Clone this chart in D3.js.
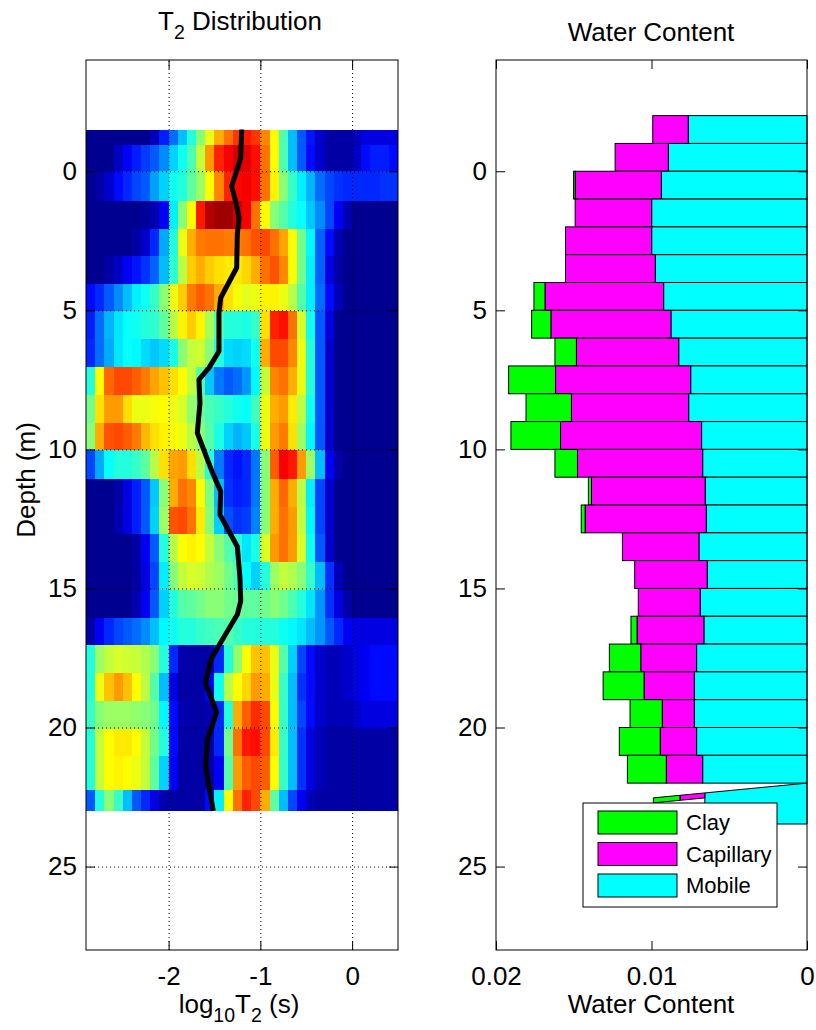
<!DOCTYPE html>
<html>
<head>
<meta charset="utf-8">
<script src="https://cdn.jsdelivr.net/npm/d3@7"></script>
<style>
  body { margin: 0; background: #fff; }
  text { font-family: "Liberation Sans", Arial, Helvetica, sans-serif; fill: #000; }
</style>
</head>
<body>
<svg id="chart" width="816" height="1030"></svg>
<script>
// ---------- data ----------
const depthTicks = [0, 5, 10, 15, 20, 25];
const t2Ticks = [-2, -1, 0];
const wcTicks = [0.02, 0.01, 0];

// log10(T2) bin centres of the distribution grid
const t2BinCenters = [-2.85, -2.75, -2.65, -2.55, -2.45, -2.35, -2.25, -2.15, -2.05, -1.95,
  -1.85, -1.75, -1.65, -1.55, -1.45, -1.35, -1.25, -1.15, -1.05, -0.95,
  -0.85, -0.75, -0.65, -0.55, -0.45, -0.35, -0.25, -0.15, -0.05, 0.05,
  0.15, 0.25, 0.35, 0.45];
const t2BinWidth = 0.1;

// depth boundaries of the distribution rows (m)
const t2RowEdges = [-1.5, -0.93, 0, 1.07, 2.06, 3.05, 4.04, 5.03, 6.04, 7.05, 8.05, 9.05,
  10.03, 11.05, 12.06, 13.06, 14.06, 15.07, 16.08, 17.05, 18.05, 19.04, 20.04, 21.04, 22.25, 23.0];

// normalised T2 amplitude (0-100) per row and bin
const t2Amplitude = [
  [0,0,0,0,0,0,0,4,14,22,30,40,50,60,70,76,82,85,82,74,62,44,30,20,13,6,2,2,2,4,8,8,8,8],
  [0,0,0,5,10,14,17,20,25,32,38,44,56,72,84,88,92,90,86,76,62,44,30,20,12,6,2,2,2,5,12,14,14,12],
  [0,2,6,12,15,18,20,27,32,38,40,46,52,62,74,84,87,88,86,76,63,50,42,35,29,22,18,16,15,15,15,15,16,16],
  [0,0,0,0,0,0,1,3,10,35,50,62,85,95,97,97,92,88,76,62,50,45,40,37,31,25,18,10,3,0,0,0,0,0],
  [0,0,0,0,0,2,6,15,28,40,60,70,75,76,76,75,75,76,79,80,76,71,62,48,36,21,12,3,0,0,0,0,0,0],
  [0,0,2,5,10,13,16,21,30,41,55,67,70,67,65,64,64,66,70,76,79,74,62,48,35,21,8,2,0,0,0,0,0,0],
  [12,15,20,25,30,35,38,42,50,60,67,75,78,76,70,65,61,59,60,63,63,60,55,45,35,22,12,4,0,0,0,0,0,0],
  [14,22,29,34,37,38,40,41,46,55,63,67,63,53,44,40,40,39,42,65,84,86,76,58,38,20,8,0,0,0,0,0,0,0],
  [15,22,28,34,37,36,33,31,33,39,50,56,57,50,40,33,32,33,38,70,80,80,74,60,40,20,6,0,0,0,0,0,0,0],
  [40,62,77,80,80,78,75,71,68,65,62,56,45,31,23,20,22,26,36,56,74,76,70,60,40,20,6,0,0,0,0,0,0,0],
  [48,65,72,72,65,60,60,61,62,60,58,51,47,44,42,40,38,37,43,60,70,72,64,55,38,20,6,0,0,0,0,0,0,0],
  [50,70,79,80,78,75,69,65,63,62,60,55,50,45,39,32,29,31,39,60,72,75,65,52,36,20,6,0,0,0,0,0,0,0],
  [18,28,37,40,40,42,46,55,65,71,72,65,55,40,23,15,13,15,23,50,78,88,85,72,52,30,10,2,0,0,0,0,0,0],
  [0,0,0,2,8,14,20,31,50,70,76,74,62,49,30,16,14,15,23,50,70,77,70,55,35,18,6,0,0,0,0,0,0,0],
  [0,0,0,3,8,14,20,32,52,79,80,76,64,50,32,19,16,17,24,50,70,76,72,56,36,18,6,0,0,0,0,0,0,0],
  [0,0,0,0,0,2,10,20,40,55,62,63,62,56,50,45,40,34,39,58,72,76,72,58,38,20,6,0,0,0,0,0,0,0],
  [0,0,0,0,0,2,8,18,35,50,56,58,57,54,52,48,44,37,32,40,52,56,54,50,42,30,16,4,0,0,0,0,0,0],
  [0,0,0,0,0,3,10,20,32,40,45,46,48,50,50,48,47,46,46,48,50,48,44,40,34,26,16,8,2,0,0,0,0,0],
  [2,10,15,18,20,22,25,30,36,38,40,40,42,43,44,45,42,40,40,40,40,38,36,34,30,26,20,15,10,8,8,8,8,8],
  [40,52,56,58,57,56,54,50,40,15,3,2,2,2,15,40,51,62,68,68,60,45,32,18,12,6,4,4,6,8,10,12,12,12],
  [40,60,68,72,68,62,55,45,30,8,2,2,2,10,38,55,62,66,72,70,60,42,30,16,12,6,4,4,6,8,10,12,12,12],
  [42,50,52,52,52,51,50,48,36,12,3,2,2,3,15,40,70,78,83,80,62,42,30,18,12,6,4,4,4,6,8,8,8,8],
  [40,56,62,64,64,62,56,48,40,12,2,2,2,2,15,48,76,85,86,80,64,42,30,16,8,4,2,2,2,2,2,2,2,2],
  [40,56,62,63,62,60,56,46,32,10,2,2,2,2,10,45,72,78,80,78,62,42,30,16,8,4,2,2,2,2,2,2,2,2],
  [20,40,50,42,30,20,15,8,3,2,2,2,2,12,35,62,76,84,80,70,46,30,18,10,4,2,2,2,2,2,2,2,2,2]
];

// mean log10(T2) profile
const meanT2Depth = [-1.5, -0.48, 0.54, 1.08, 1.67, 2.27, 3.47, 4.55, 5.1, 6.47, 7.07, 7.49, 8.33, 9.41,
  10.82, 11.51, 12.35, 13.49, 14.62, 15.46, 15.94, 16.99, 17.57, 18.4, 19.46, 20.44, 21.4, 23.0];
const meanLogT2 = [-1.203, -1.214, -1.312, -1.269, -1.233, -1.251, -1.258, -1.432, -1.451, -1.451, -1.560, -1.669, -1.658, -1.687,
  -1.524, -1.432, -1.440, -1.251, -1.222, -1.214, -1.251, -1.440, -1.541, -1.596, -1.476, -1.578, -1.596, -1.513];

// water content layers (m, m^3/m^3)
const layerTop = [-2, -1, 0, 1, 2, 3, 4, 5, 6, 7, 8, 9, 10, 11, 12, 13, 14, 15, 16, 17, 18, 19, 20, 21];
const layerBottom = [-1, 0, 1, 2, 3, 4, 5, 6, 7, 8, 9, 10, 11, 12, 13, 14, 15, 16, 17, 18, 19, 20, 21, 22];
const clayWC = [0, 0, 0.00010, 0, 0, 0, 0.00071, 0.00124, 0.00138, 0.00302, 0.00292, 0.00319,
  0.00145, 0.00020, 0.00025, 0, 0, 0, 0.00039, 0.00202, 0.00263, 0.00207, 0.00263, 0.00250];
const capillaryWC = [0.00228, 0.00342, 0.00554, 0.00492, 0.00554, 0.00577, 0.00763, 0.00772, 0.00658, 0.00869, 0.00754, 0.00907,
  0.00805, 0.00731, 0.00779, 0.00492, 0.00466, 0.00398, 0.00430, 0.00359, 0.00323, 0.00206, 0.00234, 0.00234];
const mobileWC = [0.00764, 0.00892, 0.00937, 0.00999, 0.00999, 0.00976, 0.00922, 0.00875, 0.00825, 0.00748, 0.00761, 0.00678,
  0.00671, 0.00655, 0.00648, 0.00695, 0.00642, 0.00687, 0.00663, 0.00710, 0.00725, 0.00725, 0.00710, 0.00671];

// bottom layer, drawn as a skewed patch
const lastClayWC = 0.00171, lastCapillaryWC = 0.00160, lastMobileWC = 0.00657;
const lastTopAtZero = 22.0, lastTopAtTotal = 22.53, lastThinThickness = 0.18, lastMobileBottom = 23.47;

const componentNames = ["Clay", "Capillary", "Mobile"];
const componentColors = ["#00ff00", "#ff00ff", "#00ffff"];

// ---------- layout ----------
const svg = d3.select("#chart");
const FONT = 26;
const yDepth = d3.scaleLinear().domain([-4, 28]).range([60, 950]);
const xT2 = d3.scaleLinear().domain([-2.9, 0.5]).range([86, 398]);
const xWC = d3.scaleLinear().domain([0.02, 0]).range([496, 807]);

// MATLAB-style jet colour map
const jet = d3.scaleLinear()
  .domain([0, 0.111, 0.365, 0.619, 0.873, 1])
  .range(["#000090", "#0000ff", "#00ffff", "#ffff00", "#ff0000", "#800000"])
  .clamp(true);

// ---------- left panel: T2 distribution ----------
const left = svg.append("g");
const cells = [];
t2Amplitude.forEach((row, i) => {
  row.forEach((v, k) => cells.push({ i, k, v }));
});
left.append("g").selectAll("rect").data(cells).join("rect")
  .attr("x", d => xT2(t2BinCenters[d.k] - t2BinWidth / 2))
  .attr("width", d => xT2(t2BinCenters[d.k] + t2BinWidth / 2) - xT2(t2BinCenters[d.k] - t2BinWidth / 2))
  .attr("y", d => yDepth(t2RowEdges[d.i]))
  .attr("height", d => yDepth(t2RowEdges[d.i + 1]) - yDepth(t2RowEdges[d.i]))
  .attr("fill", d => jet(d.v / 100))
  .attr("shape-rendering", "crispEdges");

// dotted grid
const gridX = left.append("g").attr("transform", `translate(0,${yDepth.range()[1]})`)
  .call(d3.axisBottom(xT2).tickValues(t2Ticks).tickSize(-(yDepth.range()[1] - yDepth.range()[0])).tickFormat(""));
const gridY = left.append("g").attr("transform", `translate(${xT2.range()[0]},0)`)
  .call(d3.axisLeft(yDepth).tickValues(depthTicks).tickSize(-(xT2.range()[1] - xT2.range()[0])).tickFormat(""));
[gridX, gridY].forEach(g => {
  g.select(".domain").remove();
  g.selectAll("line").attr("stroke", "#000").attr("stroke-width", 1).attr("stroke-dasharray", "1,3");
});

// mean T2 curve
const meanPts = meanT2Depth.map((d, i) => [meanLogT2[i], d]);
left.append("path")
  .attr("d", d3.line().x(p => xT2(p[0])).y(p => yDepth(p[1]))(meanPts))
  .attr("fill", "none").attr("stroke", "#000").attr("stroke-width", 5)
  .attr("stroke-linejoin", "round");

function frame(g, xs, ys, xTicks, xFmt) {
  const [x0, x1] = xs.range();
  const [y0, y1] = ys.range();
  const tk = 9;
  const ax = [
    g.append("g").attr("transform", `translate(0,${y1})`)
      .call(d3.axisBottom(xs).tickValues(xTicks).tickSizeInner(-tk).tickSizeOuter(0).tickPadding(17).tickFormat(xFmt)),
    g.append("g").attr("transform", `translate(0,${y0})`)
      .call(d3.axisTop(xs).tickValues(xTicks).tickSizeInner(-tk).tickSizeOuter(0).tickFormat("")),
    g.append("g").attr("transform", `translate(${Math.min(x0, x1)},0)`)
      .call(d3.axisLeft(ys).tickValues(depthTicks).tickSizeInner(-tk).tickSizeOuter(0).tickPadding(9).tickFormat(d => String(d))),
    g.append("g").attr("transform", `translate(${Math.max(x0, x1)},0)`)
      .call(d3.axisRight(ys).tickValues(depthTicks).tickSizeInner(-tk).tickSizeOuter(0).tickFormat(""))
  ];
  ax.forEach(a => {
    a.select(".domain").remove();
    a.selectAll("line").attr("stroke", "#000");
    a.selectAll("text").attr("font-size", FONT).attr("font-family", null).attr("fill", "#000");
  });
  g.append("rect")
    .attr("x", Math.min(x0, x1)).attr("y", y0)
    .attr("width", Math.abs(x1 - x0)).attr("height", y1 - y0)
    .attr("fill", "none").attr("stroke", "#000").attr("stroke-width", 1);
}
frame(left, xT2, yDepth, t2Ticks, d => String(d));

// titles and labels (left)
const t1 = left.append("text").attr("x", 240).attr("y", 30).attr("text-anchor", "middle").attr("font-size", FONT);
t1.append("tspan").text("T");
t1.append("tspan").attr("font-size", FONT * 0.75).attr("dy", 9).text("2");
t1.append("tspan").attr("dy", -9).text(" Distribution");

const xl1 = left.append("text").attr("x", 239).attr("y", 1013).attr("text-anchor", "middle").attr("font-size", FONT);
xl1.append("tspan").text("log");
xl1.append("tspan").attr("font-size", FONT * 0.75).attr("dy", 9).text("10");
xl1.append("tspan").attr("dy", -9).text("T");
xl1.append("tspan").attr("font-size", FONT * 0.75).attr("dy", 9).text("2");
xl1.append("tspan").attr("dy", -9).text(" (s)");

left.append("text").attr("transform", "translate(35,480) rotate(-90)")
  .attr("text-anchor", "middle").attr("font-size", FONT).text("Depth (m)");

// ---------- right panel: water content ----------
const right = svg.append("g");
const bars = [];
layerTop.forEach((top, i) => {
  const parts = [clayWC[i], capillaryWC[i], mobileWC[i]];
  // stack from zero outward: mobile, capillary, clay
  let acc = 0;
  [2, 1, 0].forEach(c => {
    bars.push({ top, bottom: layerBottom[i], w0: acc, w1: acc + parts[c], c });
    acc += parts[c];
  });
});
right.append("g").selectAll("rect").data(bars.filter(b => b.w1 > b.w0)).join("rect")
  .attr("x", b => xWC(b.w1))
  .attr("width", b => xWC(b.w0) - xWC(b.w1))
  .attr("y", b => yDepth(b.top))
  .attr("height", b => yDepth(b.bottom) - yDepth(b.top))
  .attr("fill", b => componentColors[b.c])
  .attr("stroke", "#000").attr("stroke-width", 1);

// skewed bottom layer
const lastTotal = lastClayWC + lastCapillaryWC + lastMobileWC;
const topAt = w => lastTopAtZero + (lastTopAtTotal - lastTopAtZero) * w / lastTotal;
const lastParts = [
  { w0: 0, w1: lastMobileWC, c: 2, flat: true },
  { w0: lastMobileWC, w1: lastMobileWC + lastCapillaryWC, c: 1, flat: false },
  { w0: lastMobileWC + lastCapillaryWC, w1: lastTotal, c: 0, flat: false }
];
right.append("g").selectAll("polygon").data(lastParts).join("polygon")
  .attr("points", p => {
    const b0 = p.flat ? lastMobileBottom : topAt(p.w0) + lastThinThickness;
    const b1 = p.flat ? lastMobileBottom : topAt(p.w1) + lastThinThickness;
    return [[p.w0, topAt(p.w0)], [p.w1, topAt(p.w1)], [p.w1, b1], [p.w0, b0]]
      .map(q => `${xWC(q[0])},${yDepth(q[1])}`).join(" ");
  })
  .attr("fill", p => componentColors[p.c])
  .attr("stroke", "#000").attr("stroke-width", 1).attr("stroke-linejoin", "bevel");

frame(right, xWC, yDepth, wcTicks, d => String(d));

right.append("text").attr("x", 651).attr("y", 40.5).attr("text-anchor", "middle").attr("font-size", FONT).text("Water Content");
right.append("text").attr("x", 651).attr("y", 1013).attr("text-anchor", "middle").attr("font-size", FONT).text("Water Content");

// legend
const lg = right.append("g");
lg.append("rect").attr("x", 583).attr("y", 803).attr("width", 194).attr("height", 104)
  .attr("fill", "#fff").attr("stroke", "#000").attr("stroke-width", 1);
componentNames.forEach((name, i) => {
  const y = 811 + i * 31.5;
  lg.append("rect").attr("x", 598).attr("y", y).attr("width", 79).attr("height", 23)
    .attr("fill", componentColors[i]).attr("stroke", "#000").attr("stroke-width", 1);
  lg.append("text").attr("x", 686).attr("y", y + 11.5).attr("dy", "0.36em")
    .attr("font-size", 22).text(name);
});
</script>
</body>
</html>
